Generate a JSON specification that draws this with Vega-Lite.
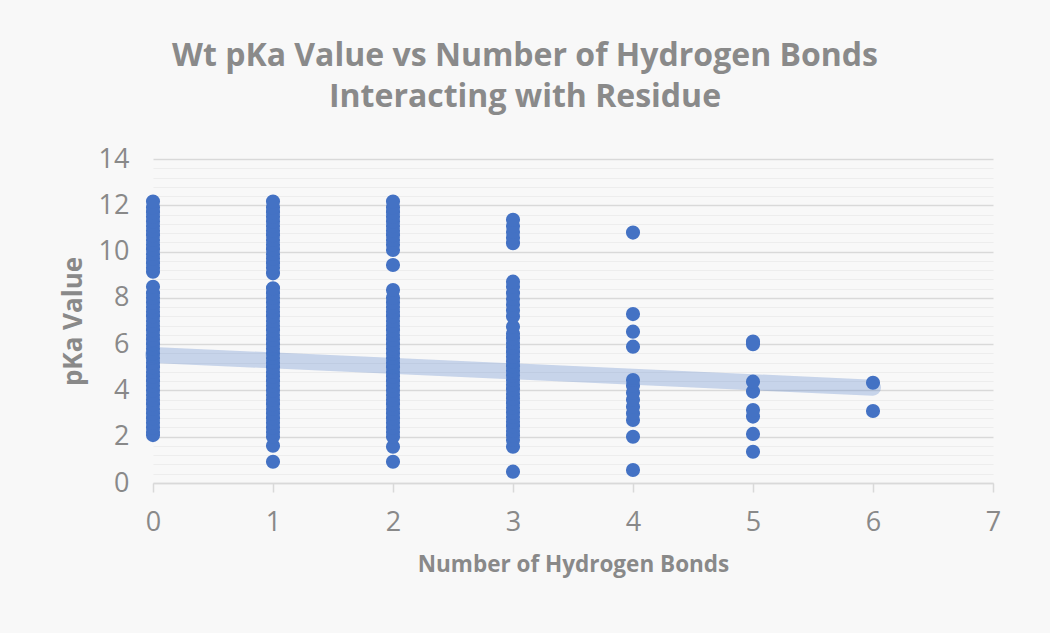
{
  "$schema": "https://vega.github.io/schema/vega-lite/v6.json",
  "width": 840,
  "height": 324,
  "autosize": "none",
  "padding": {"left": 153, "top": 159, "right": 57, "bottom": 150},
  "background": "#f8f8f8",
  "title": {
    "text": ["Wt pKa Value vs Number of Hydrogen Bonds", "Interacting with Residue"],
    "font": "Open Sans",
    "fontSize": 32,
    "fontWeight": "bold",
    "color": "#8a8a8a",
    "lineHeight": 41,
    "anchor": "middle",
    "dx": -48,
    "dy": -27,
    "limit": 1000
  },
  "config": {
    "view": {"stroke": null},
    "font": "Open Sans"
  },
  "encoding": {
    "x": {
      "field": "n",
      "type": "quantitative",
      "scale": {"domain": [0, 7], "nice": false},
      "axis": {
        "values": [0, 1, 2, 3, 4, 5, 6, 7],
        "grid": false,
        "labelFlush": false,
        "domainColor": "#d9d9d9",
        "domainWidth": 1.5,
        "tickColor": "#d9d9d9",
        "tickWidth": 1.5,
        "tickSize": 9,
        "labelFont": "Open Sans",
        "labelFontSize": 27,
        "labelColor": "#898989",
        "labelPadding": 17,
        "title": "Number of Hydrogen Bonds",
        "titleFont": "Open Sans",
        "titleFontSize": 22.5,
        "titleFontWeight": "bold",
        "titleColor": "#898989",
        "titlePadding": 18
      }
    },
    "y": {
      "field": "pKa",
      "type": "quantitative",
      "scale": {"domain": [0, 14], "nice": false},
      "axis": {
        "values": [0, 0.4, 0.8, 1.2, 1.6, 2, 2.4, 2.8, 3.2, 3.6, 4, 4.4, 4.8, 5.2, 5.6, 6, 6.4, 6.8, 7.2, 7.6, 8, 8.4, 8.8, 9.2, 9.6, 10, 10.4, 10.8, 11.2, 11.6, 12, 12.4, 12.8, 13.2, 13.6, 14],
        "labelExpr": "datum.value % 2 === 0 ? '' + datum.value : ''",
        "labelFlush": false,
        "ticks": false,
        "domain": false,
        "grid": true,
        "gridColor": {"condition": {"test": "datum.value % 2 === 0", "value": "#d9d9d9"}, "value": "#ededed"},
        "gridWidth": {"condition": {"test": "datum.value % 2 === 0", "value": 1.5}, "value": 1},
        "labelFont": "Open Sans",
        "labelFontSize": 27,
        "labelColor": "#898989",
        "labelPadding": 24,
        "title": "pKa Value",
        "titleFont": "Open Sans",
        "titleFontSize": 26,
        "titleFontWeight": "bold",
        "titleColor": "#898989",
        "titlePadding": 12
      }
    }
  },
  "layer": [
    {
      "data": {
        "values": [
          {"n": 0, "pKa": 2.07}, {"n": 0, "pKa": 2.2}, {"n": 0, "pKa": 2.4}, {"n": 0, "pKa": 2.6}, {"n": 0, "pKa": 2.8}, {"n": 0, "pKa": 3.0}, {"n": 0, "pKa": 3.2}, {"n": 0, "pKa": 3.4}, {"n": 0, "pKa": 3.6}, {"n": 0, "pKa": 3.8}, {"n": 0, "pKa": 4.0}, {"n": 0, "pKa": 4.2}, {"n": 0, "pKa": 4.4}, {"n": 0, "pKa": 4.6}, {"n": 0, "pKa": 4.8}, {"n": 0, "pKa": 5.0}, {"n": 0, "pKa": 5.2}, {"n": 0, "pKa": 5.4}, {"n": 0, "pKa": 5.6}, {"n": 0, "pKa": 5.8}, {"n": 0, "pKa": 6.0}, {"n": 0, "pKa": 6.2}, {"n": 0, "pKa": 6.4}, {"n": 0, "pKa": 6.6}, {"n": 0, "pKa": 6.8}, {"n": 0, "pKa": 7.0}, {"n": 0, "pKa": 7.2}, {"n": 0, "pKa": 7.4}, {"n": 0, "pKa": 7.6}, {"n": 0, "pKa": 7.8}, {"n": 0, "pKa": 8.0}, {"n": 0, "pKa": 8.2}, {"n": 0, "pKa": 8.48},
          {"n": 0, "pKa": 9.13}, {"n": 0, "pKa": 9.3}, {"n": 0, "pKa": 9.5}, {"n": 0, "pKa": 9.7}, {"n": 0, "pKa": 9.9}, {"n": 0, "pKa": 10.1}, {"n": 0, "pKa": 10.3}, {"n": 0, "pKa": 10.5}, {"n": 0, "pKa": 10.7}, {"n": 0, "pKa": 10.9}, {"n": 0, "pKa": 11.1}, {"n": 0, "pKa": 11.3}, {"n": 0, "pKa": 11.5}, {"n": 0, "pKa": 11.7}, {"n": 0, "pKa": 11.9}, {"n": 0, "pKa": 12.16},
          {"n": 1, "pKa": 0.92}, {"n": 1, "pKa": 1.61}, {"n": 1, "pKa": 2.0}, {"n": 1, "pKa": 2.2}, {"n": 1, "pKa": 2.4}, {"n": 1, "pKa": 2.6}, {"n": 1, "pKa": 2.8}, {"n": 1, "pKa": 3.0}, {"n": 1, "pKa": 3.2}, {"n": 1, "pKa": 3.4}, {"n": 1, "pKa": 3.6}, {"n": 1, "pKa": 3.8}, {"n": 1, "pKa": 4.0}, {"n": 1, "pKa": 4.2}, {"n": 1, "pKa": 4.4}, {"n": 1, "pKa": 4.6}, {"n": 1, "pKa": 4.8}, {"n": 1, "pKa": 5.0}, {"n": 1, "pKa": 5.2}, {"n": 1, "pKa": 5.4}, {"n": 1, "pKa": 5.6}, {"n": 1, "pKa": 5.8}, {"n": 1, "pKa": 6.0}, {"n": 1, "pKa": 6.2}, {"n": 1, "pKa": 6.4}, {"n": 1, "pKa": 6.6}, {"n": 1, "pKa": 6.8}, {"n": 1, "pKa": 7.0}, {"n": 1, "pKa": 7.2}, {"n": 1, "pKa": 7.4}, {"n": 1, "pKa": 7.6}, {"n": 1, "pKa": 7.8}, {"n": 1, "pKa": 8.0}, {"n": 1, "pKa": 8.2}, {"n": 1, "pKa": 8.41},
          {"n": 1, "pKa": 9.06}, {"n": 1, "pKa": 9.3}, {"n": 1, "pKa": 9.5}, {"n": 1, "pKa": 9.7}, {"n": 1, "pKa": 9.9}, {"n": 1, "pKa": 10.1}, {"n": 1, "pKa": 10.3}, {"n": 1, "pKa": 10.5}, {"n": 1, "pKa": 10.7}, {"n": 1, "pKa": 10.9}, {"n": 1, "pKa": 11.1}, {"n": 1, "pKa": 11.3}, {"n": 1, "pKa": 11.5}, {"n": 1, "pKa": 11.7}, {"n": 1, "pKa": 11.9}, {"n": 1, "pKa": 12.16},
          {"n": 2, "pKa": 0.92}, {"n": 2, "pKa": 1.57}, {"n": 2, "pKa": 2.0}, {"n": 2, "pKa": 2.2}, {"n": 2, "pKa": 2.4}, {"n": 2, "pKa": 2.6}, {"n": 2, "pKa": 2.8}, {"n": 2, "pKa": 3.0}, {"n": 2, "pKa": 3.2}, {"n": 2, "pKa": 3.4}, {"n": 2, "pKa": 3.6}, {"n": 2, "pKa": 3.8}, {"n": 2, "pKa": 4.0}, {"n": 2, "pKa": 4.2}, {"n": 2, "pKa": 4.4}, {"n": 2, "pKa": 4.6}, {"n": 2, "pKa": 4.8}, {"n": 2, "pKa": 5.0}, {"n": 2, "pKa": 5.2}, {"n": 2, "pKa": 5.4}, {"n": 2, "pKa": 5.6}, {"n": 2, "pKa": 5.8}, {"n": 2, "pKa": 6.0}, {"n": 2, "pKa": 6.2}, {"n": 2, "pKa": 6.4}, {"n": 2, "pKa": 6.6}, {"n": 2, "pKa": 6.8}, {"n": 2, "pKa": 7.0}, {"n": 2, "pKa": 7.2}, {"n": 2, "pKa": 7.4}, {"n": 2, "pKa": 7.6}, {"n": 2, "pKa": 7.8}, {"n": 2, "pKa": 8.0}, {"n": 2, "pKa": 8.34},
          {"n": 2, "pKa": 9.42}, {"n": 2, "pKa": 10.07}, {"n": 2, "pKa": 10.3}, {"n": 2, "pKa": 10.5}, {"n": 2, "pKa": 10.7}, {"n": 2, "pKa": 10.9}, {"n": 2, "pKa": 11.1}, {"n": 2, "pKa": 11.3}, {"n": 2, "pKa": 11.5}, {"n": 2, "pKa": 11.7}, {"n": 2, "pKa": 11.9}, {"n": 2, "pKa": 12.16},
          {"n": 3, "pKa": 0.49}, {"n": 3, "pKa": 1.57}, {"n": 3, "pKa": 1.86}, {"n": 3, "pKa": 2.05}, {"n": 3, "pKa": 2.25}, {"n": 3, "pKa": 2.45}, {"n": 3, "pKa": 2.65}, {"n": 3, "pKa": 2.85}, {"n": 3, "pKa": 3.05}, {"n": 3, "pKa": 3.25}, {"n": 3, "pKa": 3.45}, {"n": 3, "pKa": 3.65}, {"n": 3, "pKa": 3.85}, {"n": 3, "pKa": 4.05}, {"n": 3, "pKa": 4.25}, {"n": 3, "pKa": 4.45}, {"n": 3, "pKa": 4.65}, {"n": 3, "pKa": 4.85}, {"n": 3, "pKa": 5.05}, {"n": 3, "pKa": 5.25}, {"n": 3, "pKa": 5.45}, {"n": 3, "pKa": 5.65}, {"n": 3, "pKa": 5.85}, {"n": 3, "pKa": 6.05}, {"n": 3, "pKa": 6.25}, {"n": 3, "pKa": 6.45}, {"n": 3, "pKa": 6.75},
          {"n": 3, "pKa": 7.19}, {"n": 3, "pKa": 7.45}, {"n": 3, "pKa": 7.7}, {"n": 3, "pKa": 7.95}, {"n": 3, "pKa": 8.2}, {"n": 3, "pKa": 8.48}, {"n": 3, "pKa": 8.7},
          {"n": 3, "pKa": 10.36}, {"n": 3, "pKa": 10.6}, {"n": 3, "pKa": 10.85}, {"n": 3, "pKa": 11.1}, {"n": 3, "pKa": 11.37},
          {"n": 4, "pKa": 0.56}, {"n": 4, "pKa": 2.0}, {"n": 4, "pKa": 2.72}, {"n": 4, "pKa": 3.0}, {"n": 4, "pKa": 3.3}, {"n": 4, "pKa": 3.6}, {"n": 4, "pKa": 3.9}, {"n": 4, "pKa": 4.2}, {"n": 4, "pKa": 4.45}, {"n": 4, "pKa": 5.89}, {"n": 4, "pKa": 6.54}, {"n": 4, "pKa": 7.3}, {"n": 4, "pKa": 10.82},
          {"n": 5, "pKa": 1.35}, {"n": 5, "pKa": 2.12}, {"n": 5, "pKa": 2.87}, {"n": 5, "pKa": 3.15}, {"n": 5, "pKa": 3.95}, {"n": 5, "pKa": 4.38}, {"n": 5, "pKa": 6.0}, {"n": 5, "pKa": 6.11},
          {"n": 6, "pKa": 3.11}, {"n": 6, "pKa": 4.33}
        ]
      },
      "mark": {"type": "circle", "size": 200, "color": "#4472C4", "opacity": 1}
    },
    {
      "data": {"values": [{"n": 0, "pKa": 5.53}, {"n": 6, "pKa": 4.12}]},
      "mark": {"type": "line", "strokeWidth": 16, "color": "#4472C4", "opacity": 0.27, "strokeCap": "round"}
    }
  ]
}
